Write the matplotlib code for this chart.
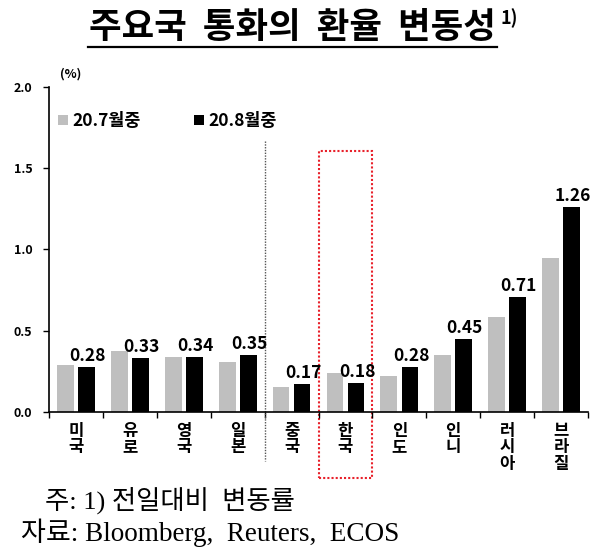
import matplotlib
matplotlib.use("Agg")
import matplotlib.pyplot as plt
from matplotlib.lines import Line2D
from matplotlib.patches import Rectangle
import numpy as np

plt.rcParams["font.family"] = ["Noto Sans CJK KR", "DejaVu Sans"]

countries = ["미국", "유로", "영국", "일본", "중국", "한국", "인도", "인니", "러시아", "브라질"]
jul = [0.29, 0.375, 0.34, 0.31, 0.155, 0.243, 0.22, 0.35, 0.585, 0.95]
aug = [0.28, 0.33, 0.34, 0.35, 0.17, 0.18, 0.28, 0.45, 0.71, 1.26]
series_labels = ["20.7월중", "20.8월중"]
yticks = [0.0, 0.5, 1.0, 1.5, 2.0]

GRAY = "#bfbfbf"
BLACK = "#000000"

fig = plt.figure(figsize=(6.0, 5.54), dpi=100)
ax = fig.add_axes([0.0817, 0.2563, 0.8983, 0.5867])

x = np.arange(len(countries))
w = 0.31
off = 0.195
ax.bar(x - off, jul, w, color=GRAY, label=series_labels[0])
bars = ax.bar(x + off, aug, w, color=BLACK, label=series_labels[1])
for b, v in zip(bars, aug):
    ax.text(b.get_x() + b.get_width() / 2 + 0.02, v + 0.012, f"{v:.2f}",
            ha="center", va="bottom", fontsize=12.5, fontweight="bold")

ax.set_xlim(-0.5, len(countries) - 0.5)
ax.set_ylim(0, 2.0)
ax.set_yticks(yticks)
ax.set_yticklabels([f"{t:.1f}" for t in yticks], fontsize=9, fontweight="bold")
ax.tick_params(axis="y", direction="out", length=4, width=1, pad=8)

ax.set_xticks(x)
ax.set_xticklabels(["\n".join(c) for c in countries], fontsize=12,
                   fontweight="bold", linespacing=0.9, va="top")
ax.tick_params(axis="x", length=0, pad=7)
ax.set_xticks(np.arange(-0.5, len(countries)), minor=True)
ax.tick_params(axis="x", which="minor", direction="out", length=4, width=1)

for s in ["top", "right"]:
    ax.spines[s].set_visible(False)
ax.spines["left"].set_linewidth(1.2)
ax.spines["bottom"].set_linewidth(1.2)

# separator between advanced and emerging economies
ax.plot([3.5, 3.5], [1.67, -0.3], ls=(0, (1, 1)), color="#555555", lw=1,
        clip_on=False)

# highlight box around Korea
ax.add_patch(Rectangle((4.5, -0.405), 1.0, 2.01, fill=False, ec="#e8202a",
                       lw=1.5, ls=(0, (1, 1)), clip_on=False))

ax.text(0.02, 1.02, "(%)", transform=ax.transAxes, fontsize=9,
        fontweight="bold", va="bottom")

ax.legend(loc="upper left", bbox_to_anchor=(-0.012, 0.97), ncol=2, frameon=False,
          handlelength=0.55, handleheight=0.55, handletextpad=0.25,
          columnspacing=3.1,
          prop={"size": 12.5, "weight": "bold", "family": ["Noto Sans CJK KR"]})

# title with underline and superscript
fig.text(0.488, 0.95, "주요국  통화의  환율  변동성", ha="center", va="center",
         fontsize=25.5, fontweight="bold")
fig.text(0.835, 0.968, "1)", ha="left", va="center", fontsize=13,
         fontweight="bold")
fig.add_artist(Line2D([0.147, 0.828], [0.915, 0.915], color="black", lw=1.6))

serif = ["Liberation Serif", "Noto Sans CJK KR"]
fig.text(0.075, 0.097, "주: 1) 전일대비  변동률", fontsize=19, family=serif,
         va="center")
fig.text(0.035, 0.038, "자료: Bloomberg,  Reuters,  ECOS", fontsize=19.5,
         family=serif, va="center")

fig.savefig("out.png", dpi=100)
